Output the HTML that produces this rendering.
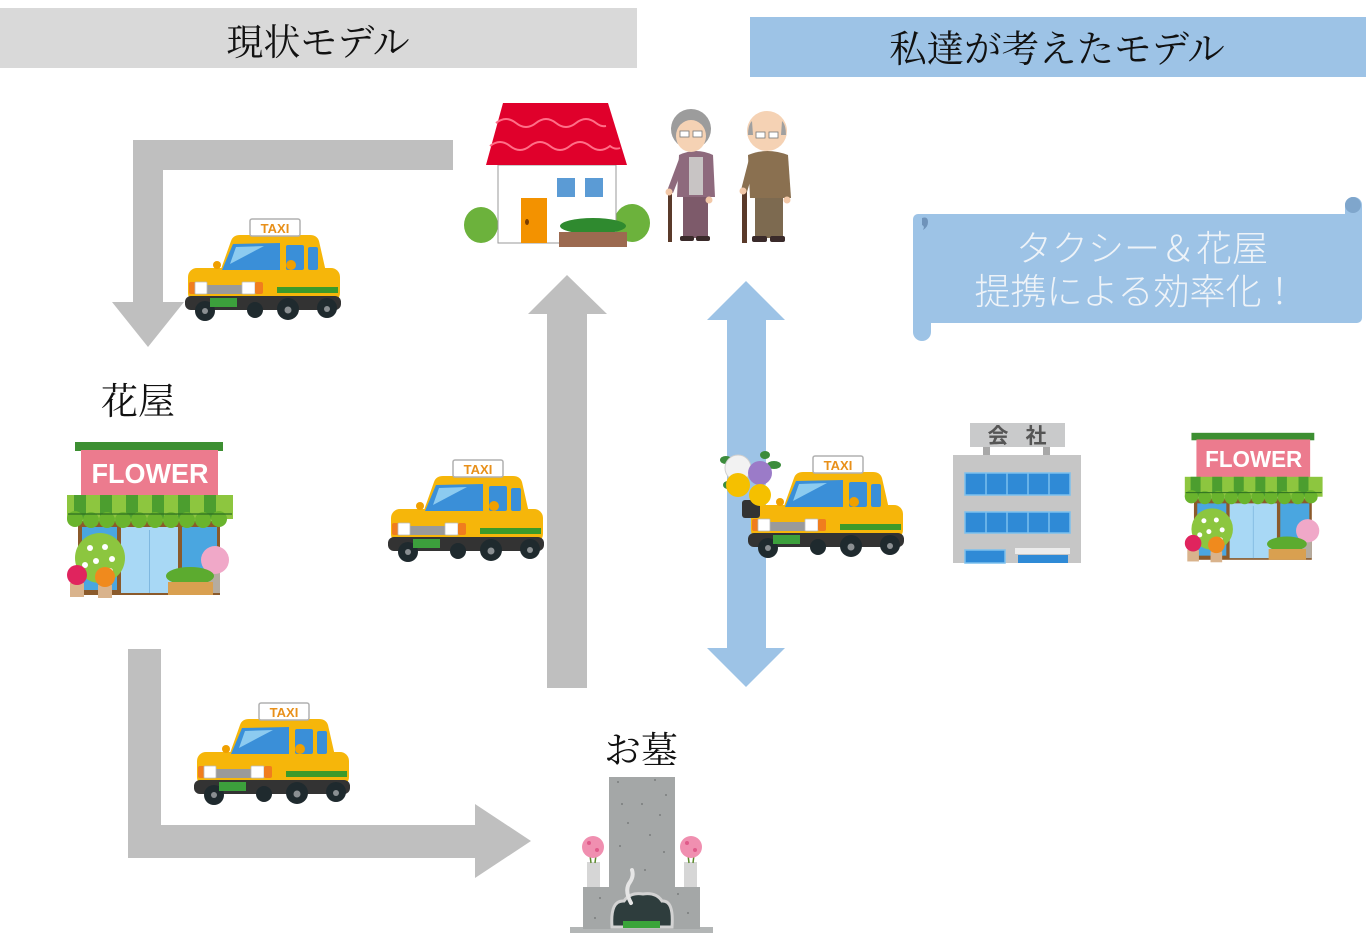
<!DOCTYPE html>
<html><head><meta charset="utf-8"><style>
html,body{margin:0;padding:0;background:#fff;}
svg{display:block;}
</style></head><body>
<svg width="1366" height="933" viewBox="0 0 1366 933" xmlns="http://www.w3.org/2000/svg">
<defs>
<g id="car">
 <path d="M40 60 L51 29 Q53 23 60 23 L130 23 Q137 23 139 29 L146 60 Z" fill="#f6b60a"/>
 <rect x="8" y="56" width="152" height="34" rx="9" fill="#f6b60a"/>
 <rect x="5" y="84" width="156" height="14" rx="6" fill="#333"/>
 <circle cx="25" cy="99" r="10" fill="#1f2a2e"/><circle cx="25" cy="99" r="3" fill="#8a8f92"/>
 <circle cx="75" cy="98" r="8" fill="#1f2a2e"/>
 <circle cx="108" cy="97" r="11" fill="#1f2a2e"/><circle cx="108" cy="98" r="3.5" fill="#8a8f92"/>
 <circle cx="147" cy="96" r="10" fill="#1f2a2e"/><circle cx="147" cy="97" r="3" fill="#8a8f92"/>
 <polygon points="42,58 53,32 100,31 100,58" fill="#3a8fd8"/>
 <polygon points="56,35 84,34 50,52" fill="#8ccbf0"/>
 <rect x="106" y="33" width="18" height="25" rx="2" fill="#3a8fd8"/>
 <rect x="128" y="35" width="10" height="23" rx="2" fill="#3a8fd8"/>
 <circle cx="37" cy="53" r="4" fill="#f0a000"/>
 <circle cx="111" cy="53" r="5" fill="#f0a000"/>
 <rect x="27" y="73" width="35" height="9" fill="#9a9a9a"/>
 <rect x="9" y="70" width="7" height="12" rx="2" fill="#f07d1e"/>
 <rect x="15" y="70" width="12" height="12" rx="1" fill="#fff" stroke="#bbb" stroke-width="0.8"/>
 <rect x="62" y="70" width="13" height="12" rx="1" fill="#fff" stroke="#bbb" stroke-width="0.8"/>
 <rect x="75" y="70" width="8" height="12" rx="2" fill="#f07d1e"/>
 <rect x="97" y="75" width="61" height="6" fill="#3c9a2a"/>
 <rect x="30" y="86" width="27" height="9" fill="#3ca03c"/>
 <rect x="70" y="7" width="50" height="17" rx="2" fill="#fff" stroke="#b0b0b0" stroke-width="1.5"/>
</g>
<g id="shop">
 <rect x="18" y="86" width="142" height="74" fill="#8b5a2b"/>
 <rect x="22" y="92" width="35" height="63" fill="#4aa6e0"/>
 <rect x="61" y="92" width="57" height="66" fill="#a8d8f5"/>
 <rect x="122" y="92" width="35" height="63" fill="#4aa6e0"/>
 <line x1="89.5" y1="95" x2="89.5" y2="158" stroke="#7fb8e0" stroke-width="1"/>
 <rect x="15" y="7" width="148" height="9" fill="#3d8f32"/>
 <rect x="21" y="15" width="137" height="46" fill="#ec7b8e"/>
 <rect x="7" y="60" width="166" height="24" fill="#8dc63f"/>
 <g fill="#4c9e2f">
  <rect x="14" y="60" width="12" height="24"/><rect x="40" y="60" width="12" height="24"/>
  <rect x="66" y="60" width="12" height="24"/><rect x="92" y="60" width="12" height="24"/>
  <rect x="118" y="60" width="12" height="24"/><rect x="144" y="60" width="12" height="24"/>
 </g>
 <g fill="#6ab42d">
  <circle cx="15" cy="84" r="8"/><circle cx="31" cy="85" r="8"/><circle cx="47" cy="85" r="8"/>
  <circle cx="63" cy="85" r="8"/><circle cx="79" cy="85" r="8"/><circle cx="95" cy="85" r="8"/>
  <circle cx="111" cy="85" r="8"/><circle cx="127" cy="85" r="8"/><circle cx="143" cy="85" r="8"/>
  <circle cx="159" cy="84" r="8"/>
 </g>
 <line x1="8" y1="79" x2="172" y2="79" stroke="#2e6e22" stroke-width="1.2"/>
 <circle cx="40" cy="123" r="25" fill="#8cc63f"/>
 <g fill="#fff"><circle cx="30" cy="113" r="3"/><circle cx="45" cy="112" r="3"/><circle cx="52" cy="124" r="3"/><circle cx="36" cy="126" r="3"/><circle cx="25" cy="130" r="3"/><circle cx="50" cy="136" r="3"/></g>
 <rect x="10" y="148" width="14" height="14" fill="#d9b38c"/>
 <rect x="38" y="150" width="14" height="13" fill="#d9b38c"/>
 <circle cx="17" cy="140" r="10" fill="#e0245e"/>
 <circle cx="45" cy="142" r="10" fill="#f08a1d"/>
 <rect x="148" y="132" width="12" height="26" fill="#b5aca0"/>
 <circle cx="155" cy="125" r="14" fill="#f0a8c8"/>
 <ellipse cx="130" cy="141" rx="24" ry="9" fill="#5cab2f"/>
 <rect x="108" y="147" width="45" height="13" fill="#d9a050"/>
</g>
</defs>

<!-- headers -->
<rect x="0" y="8" width="637" height="60" fill="#d9d9d9"/>
<text x="318" y="55" font-family="'Liberation Serif','Noto Serif CJK SC',serif" font-size="37" text-anchor="middle" fill="#111">現状モデル</text>
<rect x="750" y="17" width="616" height="60" fill="#9dc3e6"/>
<text x="1057" y="62" font-family="'Liberation Serif','Noto Serif CJK SC',serif" font-size="37.5" text-anchor="middle" fill="#111">私達が考えたモデル</text>

<!-- gray arrows -->
<polygon points="453,140 133,140 133,302 112,302 148,347 184,302 163,302 163,170 453,170" fill="#bfbfbf"/>
<polygon points="547,688 547,314 528,314 567,275 607,314 587,314 587,688" fill="#bfbfbf"/>
<polygon points="128,649 161,649 161,825 475,825 475,804 531,841 475,878 475,858 128,858" fill="#bfbfbf"/>

<!-- blue double arrow -->
<polygon points="727,320 707,320 746,281 785,320 766,320 766,648 785,648 746,687 707,648 727,648" fill="#9dc3e6"/>

<!-- scroll -->
<rect x="1345" y="197" width="17" height="30" rx="8" fill="#9dc3e6"/>
<circle cx="1353" cy="205" r="8" fill="#7fa6cc"/>
<rect x="913" y="300" width="18" height="41" rx="9" fill="#9dc3e6"/>
<rect x="913" y="214" width="449" height="109" rx="5" fill="#9dc3e6"/>
<path d="M922 218 q6 -2 6 4 q0 5 -5 8 q2 -4 -1 -5 z" fill="#6f93ba"/>
<text x="1142" y="261" font-family="'Liberation Sans','Noto Sans CJK JP',sans-serif" font-weight="300" font-size="36" text-anchor="middle" fill="#eef3f8">タクシー＆花屋</text>
<text x="1136" y="304" font-family="'Liberation Sans','Noto Sans CJK JP',sans-serif" font-weight="300" font-size="36" text-anchor="middle" fill="#eef3f8">提携による効率化！</text>

<!-- labels -->
<text x="138" y="414" font-family="'Liberation Serif','Noto Serif CJK SC',serif" font-size="37" text-anchor="middle" fill="#111">花屋</text>
<text x="641" y="763" font-family="'Liberation Serif','Noto Serif CJK SC',serif" font-size="37" text-anchor="middle" fill="#111">お墓</text>

<!-- house -->
<g transform="translate(460,95)">
 <ellipse cx="21" cy="130" rx="17" ry="18" fill="#6cb23c"/>
 <ellipse cx="172" cy="128" rx="18" ry="19" fill="#6cb23c"/>
 <rect x="38" y="70" width="118" height="78" fill="#fff" stroke="#9a9a9a" stroke-width="1"/>
 <polygon points="43,8 148,8 167,70 26,70" fill="#e0002b"/>
 <path d="M36 28 q10 -8 20 0 q10 8 20 0 q10 -8 20 0 q10 8 20 0 q10 -8 20 0 q5 4 10 3" stroke="#ff6f88" stroke-width="2" fill="none"/>
 <path d="M30 51 q10 -8 20 0 q10 8 20 0 q10 -8 20 0 q10 8 20 0 q10 -8 20 0 q10 8 20 0 q5 4 10 2" stroke="#ff6f88" stroke-width="2" fill="none"/>
 <rect x="97" y="83" width="18" height="19" fill="#5b9bd5"/>
 <rect x="125" y="83" width="18" height="19" fill="#5b9bd5"/>
 <rect x="61" y="103" width="26" height="45" fill="#f39200"/>
 <ellipse cx="67" cy="127" rx="2" ry="3" fill="#7a3d00"/>
 <ellipse cx="133" cy="131" rx="33" ry="8" fill="#2f8a2f"/>
 <rect x="99" y="137" width="68" height="15" fill="#9c6a50"/>
 <!-- woman -->
 <rect x="208" y="97" width="4" height="50" fill="#5a3a2a"/>
 <rect x="223" y="98" width="25" height="45" fill="#7d5a6a"/>
 <rect x="220" y="141" width="14" height="5" rx="2" fill="#3a2a2a"/>
 <rect x="236" y="141" width="14" height="5" rx="2" fill="#3a2a2a"/>
 <path d="M219 60 Q236 52 253 60 L255 102 L217 102 Z" fill="#8e6a7d"/>
 <rect x="229" y="62" width="14" height="38" fill="#c8c4c4"/>
 <path d="M219 64 L207 96 L213 98 L224 70 Z" fill="#8e6a7d"/>
 <circle cx="209" cy="97" r="3.5" fill="#f2c8a8"/>
 <circle cx="249" cy="105" r="3.5" fill="#f2c8a8"/>
 <circle cx="231" cy="34" r="20" fill="#9c9c9c"/>
 <ellipse cx="231" cy="41" rx="15" ry="16" fill="#f5d2b4"/>
 <rect x="220" y="36" width="9" height="6" fill="#fff" stroke="#777" stroke-width="0.8"/>
 <rect x="233" y="36" width="9" height="6" fill="#fff" stroke="#777" stroke-width="0.8"/>
 <!-- man -->
 <rect x="282" y="95" width="5" height="53" fill="#5a3a2a"/>
 <rect x="295" y="100" width="28" height="43" fill="#7d6a50"/>
 <rect x="292" y="141" width="15" height="6" rx="2" fill="#3a2a2a"/>
 <rect x="310" y="141" width="15" height="6" rx="2" fill="#3a2a2a"/>
 <path d="M288 60 Q307 52 328 60 L331 103 L290 103 Z" fill="#8a7050"/>
 <path d="M289 64 L281 95 L287 97 L295 70 Z" fill="#8a7050"/>
 <circle cx="283" cy="96" r="3.5" fill="#f2c8a8"/>
 <circle cx="327" cy="105" r="3.5" fill="#f2c8a8"/>
 <circle cx="307" cy="36" r="20" fill="#f5d2b4"/>
 <path d="M288 40 q0 -10 4 -14 l1 14 z M326 40 q0 -10 -4 -14 l-1 14 z" fill="#a0a0a0"/>
 <rect x="296" y="37" width="9" height="6" fill="#fff" stroke="#777" stroke-width="0.8"/>
 <rect x="309" y="37" width="9" height="6" fill="#fff" stroke="#777" stroke-width="0.8"/>
</g>

<!-- taxis -->
<g transform="translate(180,212)"><use href="#car"/><text x="95" y="21" font-family="'Liberation Sans',sans-serif" font-weight="bold" font-size="13" fill="#e8901a" text-anchor="middle">TAXI</text></g>
<g transform="translate(383,453)"><use href="#car"/><text x="95" y="21" font-family="'Liberation Sans',sans-serif" font-weight="bold" font-size="13" fill="#e8901a" text-anchor="middle">TAXI</text></g>
<g transform="translate(189,696)"><use href="#car"/><text x="95" y="21" font-family="'Liberation Sans',sans-serif" font-weight="bold" font-size="13" fill="#e8901a" text-anchor="middle">TAXI</text></g>
<g transform="translate(743,449)"><use href="#car"/><text x="95" y="21" font-family="'Liberation Sans',sans-serif" font-weight="bold" font-size="13" fill="#e8901a" text-anchor="middle">TAXI</text></g>

<!-- bouquet -->
<g transform="translate(710,415)">
 <ellipse cx="16" cy="45" rx="6" ry="4" fill="#3c8c3c"/>
 <ellipse cx="64" cy="50" rx="7" ry="4" fill="#3c8c3c"/>
 <ellipse cx="55" cy="40" rx="5" ry="4" fill="#3c8c3c"/>
 <ellipse cx="18" cy="70" rx="5" ry="4" fill="#3c8c3c"/>
 <rect x="32" y="85" width="18" height="18" rx="3" fill="#333"/>
 <circle cx="28" cy="53" r="13" fill="#f2f2f2" stroke="#cfcfcf"/>
 <circle cx="50" cy="58" r="12" fill="#9b7bc8"/>
 <circle cx="60" cy="72" r="5" fill="#fff"/>
 <circle cx="28" cy="70" r="12" fill="#f5c000"/>
 <circle cx="50" cy="80" r="11" fill="#f5c000"/>
</g>

<!-- company -->
<g transform="translate(710,415)">
 <rect x="273" y="30" width="7" height="11" fill="#a8a8a8"/>
 <rect x="333" y="30" width="7" height="11" fill="#a8a8a8"/>
 <rect x="260" y="8" width="95" height="24" fill="#c9cacb"/>
 <text x="288" y="28" font-family="'Liberation Sans','Noto Sans CJK JP',sans-serif" font-weight="bold" font-size="21" fill="#555" text-anchor="middle">会</text>
 <text x="326" y="28" font-family="'Liberation Sans','Noto Sans CJK JP',sans-serif" font-weight="bold" font-size="21" fill="#555" text-anchor="middle">社</text>
 <rect x="243" y="40" width="128" height="108" fill="#c6c6c6"/>
 <rect x="255" y="58" width="105" height="22" fill="#2f8ad6" stroke="#7cc0ee" stroke-width="1.5"/>
 <rect x="255" y="97" width="105" height="21" fill="#2f8ad6" stroke="#7cc0ee" stroke-width="1.5"/>
 <g stroke="#7cc0ee" stroke-width="1.5">
  <line x1="276" y1="58" x2="276" y2="80"/><line x1="297" y1="58" x2="297" y2="80"/><line x1="318" y1="58" x2="318" y2="80"/><line x1="339" y1="58" x2="339" y2="80"/>
  <line x1="276" y1="97" x2="276" y2="118"/><line x1="297" y1="97" x2="297" y2="118"/><line x1="318" y1="97" x2="318" y2="118"/><line x1="339" y1="97" x2="339" y2="118"/>
 </g>
 <rect x="255" y="135" width="40" height="13" fill="#2f8ad6" stroke="#7cc0ee" stroke-width="1.5"/>
 <rect x="305" y="133" width="55" height="6" fill="#ececec"/>
 <rect x="308" y="140" width="50" height="8" fill="#2f8ad6"/>
</g>

<!-- flower shops -->
<g transform="translate(60,435)"><use href="#shop"/><text x="90" y="48" font-family="'Liberation Sans',sans-serif" font-weight="bold" font-size="28" fill="#fff" text-anchor="middle" textLength="117" lengthAdjust="spacingAndGlyphs">FLOWER</text></g>
<g transform="translate(1179,427) scale(0.83)"><use href="#shop"/><text x="90" y="48" font-family="'Liberation Sans',sans-serif" font-weight="bold" font-size="28" fill="#fff" text-anchor="middle" textLength="117" lengthAdjust="spacingAndGlyphs">FLOWER</text></g>

<!-- grave -->
<g transform="translate(560,770)">
 <rect x="10" y="157" width="143" height="8" fill="#b3b6b6"/>
 <rect x="23" y="117" width="117" height="42" fill="#a4a7a7"/>
 <rect x="49" y="7" width="66" height="111" fill="#a4a7a7"/>
 <g fill="#7a7d7d">
  <circle cx="58" cy="12" r="1"/><circle cx="95" cy="10" r="1"/><circle cx="106" cy="25" r="1"/><circle cx="62" cy="34" r="1"/><circle cx="82" cy="34" r="1"/>
  <circle cx="100" cy="45" r="1"/><circle cx="68" cy="53" r="1"/><circle cx="90" cy="65" r="1"/><circle cx="60" cy="76" r="1"/><circle cx="104" cy="82" r="1"/>
  <circle cx="85" cy="100" r="1"/><circle cx="40" cy="128" r="1"/><circle cx="118" cy="124" r="1"/><circle cx="128" cy="143" r="1"/><circle cx="35" cy="148" r="1"/>
 </g>
 <rect x="27" y="92" width="13" height="25" fill="#d6d6d6"/>
 <rect x="124" y="92" width="13" height="25" fill="#d6d6d6"/>
 <line x1="30" y1="85" x2="31" y2="93" stroke="#5a8a2a" stroke-width="1.5"/>
 <line x1="36" y1="85" x2="35" y2="93" stroke="#5a8a2a" stroke-width="1.5"/>
 <line x1="128" y1="85" x2="129" y2="93" stroke="#5a8a2a" stroke-width="1.5"/>
 <line x1="134" y1="85" x2="133" y2="93" stroke="#5a8a2a" stroke-width="1.5"/>
 <circle cx="33" cy="77" r="11" fill="#f08fb0"/>
 <circle cx="131" cy="77" r="11" fill="#f08fb0"/>
 <g fill="#e05a8a"><circle cx="29" cy="73" r="2"/><circle cx="37" cy="80" r="2"/><circle cx="127" cy="73" r="2"/><circle cx="135" cy="80" r="2"/></g>
 <path d="M52 157 Q50 130 64 131 Q70 122 83 124 Q96 122 102 131 Q114 130 112 157 Z" fill="#2e3d3d" stroke="#d2d2d2" stroke-width="3"/>
 <rect x="63" y="151" width="37" height="7" fill="#3aa53a"/>
 <path d="M71 133 Q64 120 70 112 Q74 106 72 100" stroke="#e6e6e6" stroke-width="4" fill="none" stroke-linecap="round"/>
</g>
</svg>
</body></html>
